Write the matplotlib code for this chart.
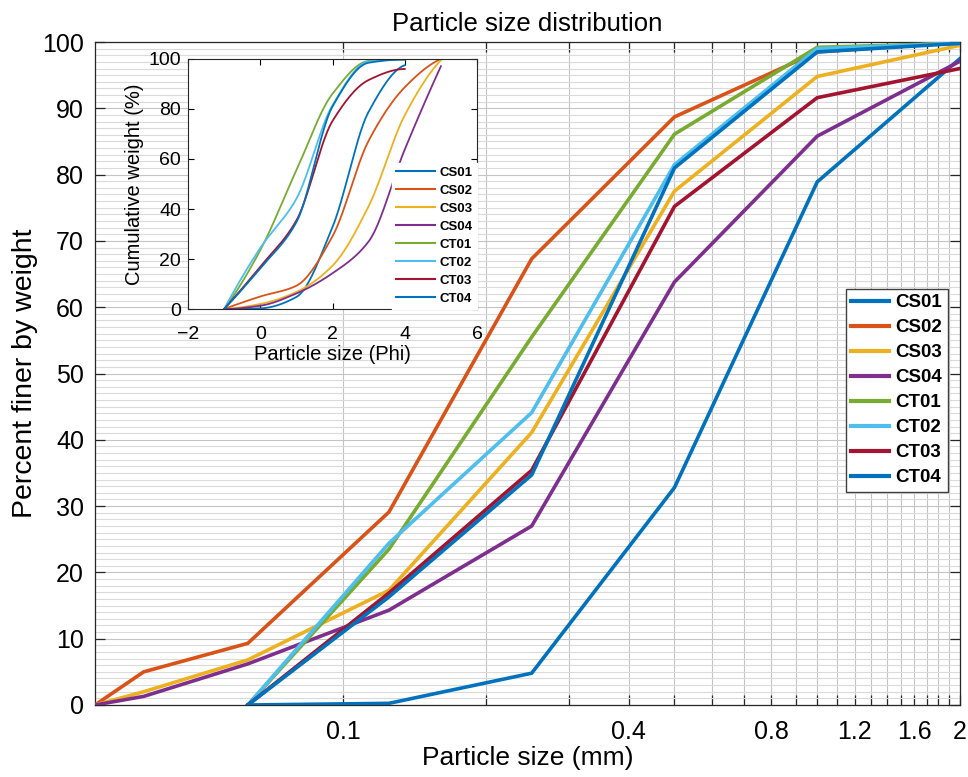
import numpy as np
import matplotlib
matplotlib.use("Agg")
import matplotlib.pyplot as plt
from matplotlib.ticker import FixedLocator, FixedFormatter, MultipleLocator, NullLocator

plt.rcParams['font.family'] = ['Liberation Sans', 'DejaVu Sans']

# ---------------- data (main chart) ----------------
names = ["CS01", "CS02", "CS03", "CS04", "CT01", "CT02", "CT03", "CT04"]
colors = ["#0072BD", "#D95319", "#EDB120", "#7E2F8E", "#77AC30", "#4DBEEE", "#A2142F", "#0072BD"]

size_fine = [0.03, 0.038, 0.063, 0.125, 0.25, 0.5, 1, 2]      # mm, CS02-CS04
size_coarse = [0.063, 0.125, 0.25, 0.5, 1, 2]                 # mm, CS01, CT01-CT04

cs01 = [0, 0.25, 4.8, 32.8, 78.9, 97.5]
cs02 = [0, 5.0, 9.3, 29.1, 67.3, 88.7, 98.5, 100]
cs03 = [0, 2.0, 6.8, 17.3, 41.1, 77.5, 94.8, 99.5]
cs04 = [0, 1.3, 6.2, 14.3, 27.0, 63.8, 85.8, 97.1]
ct01 = [0, 23.5, 55.5, 86.1, 99.2, 99.8]
ct02 = [0, 24.4, 44.1, 81.5, 99.0, 99.8]
ct03 = [0, 16.9, 35.4, 75.2, 91.6, 96.0]
ct04 = [0, 16.3, 34.7, 81.0, 98.5, 99.8]

# ---------------- data (inset, phi scale) ----------------
phi_fine = [-1, 0, 1, 2, 3, 4, 5]
phi_coarse = [-1, 0, 1, 2, 3, 4]
in_cs01 = [0, 0.25, 4.8, 32.8, 78.9, 97.5]
in_cs02 = [0, 5.0, 9.3, 29.1, 67.3, 88.7, 100]
in_cs03 = [0, 2.0, 6.8, 17.3, 41.1, 77.5, 99.5]
in_cs04 = [0, 1.3, 6.2, 14.3, 27.0, 63.8, 97.1]
in_ct01 = [0, 23.5, 55.5, 86.1, 99.2, 99.8]
in_ct02 = [0, 24.4, 44.1, 81.5, 99.0, 99.8]
in_ct03 = [0, 16.9, 35.4, 75.2, 91.6, 96.0]
in_ct04 = [0, 16.3, 34.7, 81.0, 98.5, 99.8]

xtick_vals = [round(0.1 * i, 1) for i in range(1, 21)]
xtick_labels_shown = {0.1: "0.1", 0.4: "0.4", 0.8: "0.8", 1.2: "1.2", 1.6: "1.6", 2.0: "2"}


def pchip(x, y, xn):
    x = np.asarray(x, float); y = np.asarray(y, float)
    h = np.diff(x); d = np.diff(y) / h
    n = len(x)
    m = np.zeros(n)
    for k in range(1, n - 1):
        if d[k - 1] * d[k] <= 0:
            m[k] = 0
        else:
            w1 = 2 * h[k] + h[k - 1]; w2 = h[k] + 2 * h[k - 1]
            m[k] = (w1 + w2) / (w1 / d[k - 1] + w2 / d[k])

    def end(h0, h1, d0, d1):
        v = ((2 * h0 + h1) * d0 - h0 * d1) / (h0 + h1)
        if np.sign(v) != np.sign(d0):
            v = 0
        elif np.sign(d0) != np.sign(d1) and abs(v) > abs(3 * d0):
            v = 3 * d0
        return v
    m[0] = end(h[0], h[1], d[0], d[1])
    m[-1] = end(h[-1], h[-2], d[-1], d[-2])
    xn = np.asarray(xn, float)
    idx = np.clip(np.searchsorted(x, xn) - 1, 0, n - 2)
    t = (xn - x[idx]) / h[idx]
    h00 = 2 * t**3 - 3 * t**2 + 1; h10 = t**3 - 2 * t**2 + t
    h01 = -2 * t**3 + 3 * t**2; h11 = t**3 - t**2
    return h00 * y[idx] + h10 * h[idx] * m[idx] + h01 * y[idx + 1] + h11 * h[idx] * m[idx + 1]


W, H = 968, 777
fig = plt.figure(figsize=(W / 100, H / 100), dpi=100)
ax = fig.add_axes([95 / W, 1 - 705 / H, 865 / W, 663 / H])

main_series = [(size_coarse, cs01), (size_fine, cs02), (size_fine, cs03), (size_fine, cs04),
               (size_coarse, ct01), (size_coarse, ct02), (size_coarse, ct03), (size_coarse, ct04)]
for (xs, ys), c, nm in zip(main_series, colors, names):
    ax.plot(xs, ys, color=c, lw=2.6, label=nm, solid_joinstyle='miter', zorder=3)

ax.set_xscale('log')
ax.set_xlim(0.03, 2)
ax.set_ylim(0, 100)
ax.xaxis.set_major_locator(FixedLocator(xtick_vals))
ax.xaxis.set_major_formatter(FixedFormatter([xtick_labels_shown.get(v, "") for v in xtick_vals]))
ax.xaxis.set_minor_locator(NullLocator())
ax.yaxis.set_major_locator(MultipleLocator(10))
ax.yaxis.set_minor_locator(MultipleLocator(1))
ax.tick_params(which='major', direction='in', length=7, width=0.9, top=True, right=True,
               labelsize=18, colors='#262626', pad=8)
ax.tick_params(axis='x', pad=11)
ax.tick_params(which='minor', length=0)
ax.tick_params(axis='both', labelcolor='black')
ax.grid(which='major', color='#c4c4c4', lw=0.8, zorder=0)
ax.grid(which='minor', axis='y', color='#dadada', lw=0.8, zorder=0)
ax.set_axisbelow(True)
for s in ax.spines.values():
    s.set_color('#262626'); s.set_linewidth(0.9)
ax.set_title("Particle size distribution", fontsize=18.5, pad=8)
ax.set_xlabel("Particle size (mm)", fontsize=19, labelpad=1)
ax.set_ylabel("Percent finer by weight", fontsize=20.5, labelpad=3)

leg = ax.legend(loc='upper right', bbox_to_anchor=(0.986, 0.628), prop={'weight': 'bold', 'size': 13.5},
                handlelength=2.0, labelspacing=0.42, borderpad=0.3, handletextpad=0.35,
                borderaxespad=0.0, fancybox=False, framealpha=1, edgecolor='#404040')
leg.get_frame().set_linewidth(1.0)
for l in leg.get_lines():
    l.set_linewidth(3)

# ---------------- inset ----------------
ax2 = fig.add_axes([188 / W, 1 - 309 / H, 289 / W, 250 / H])
inset_series = [(phi_coarse, in_cs01), (phi_fine, in_cs02), (phi_fine, in_cs03), (phi_fine, in_cs04),
                (phi_coarse, in_ct01), (phi_coarse, in_ct02), (phi_coarse, in_ct03), (phi_coarse, in_ct04)]
for (xs, ys), c, nm in zip(inset_series, colors, names):
    xx = np.linspace(xs[0], xs[-1], 200)
    ax2.plot(xx, pchip(xs, ys, xx), color=c, lw=1.3, label=nm)
ax2.set_xlim(-2, 6)
ax2.set_ylim(0, 100)
ax2.set_xticks([-2, 0, 2, 4, 6])
ax2.set_yticks([0, 20, 40, 60, 80, 100])
ax2.tick_params(direction='in', length=4, width=0.8, top=True, right=True, labelsize=14, pad=5)
ax2.tick_params(axis='x', pad=12)
for s in ax2.spines.values():
    s.set_color('#262626'); s.set_linewidth(0.8)
ax2.set_facecolor('white')
ax2.set_xlabel("Particle size (Phi)", fontsize=14.5, labelpad=2)
ax2.set_ylabel("Cumulative weight (%)", fontsize=14.5, labelpad=3)
leg2 = ax2.legend(loc='lower right', prop={'weight': 'bold', 'size': 9.5}, handlelength=3.0,
                  labelspacing=0.44, borderpad=0.3, handletextpad=0.35, borderaxespad=0.0,
                  fancybox=False, framealpha=1, edgecolor='white')
for l in leg2.get_lines():
    l.set_linewidth(1.5)

fig.savefig("out.png", dpi=100)
